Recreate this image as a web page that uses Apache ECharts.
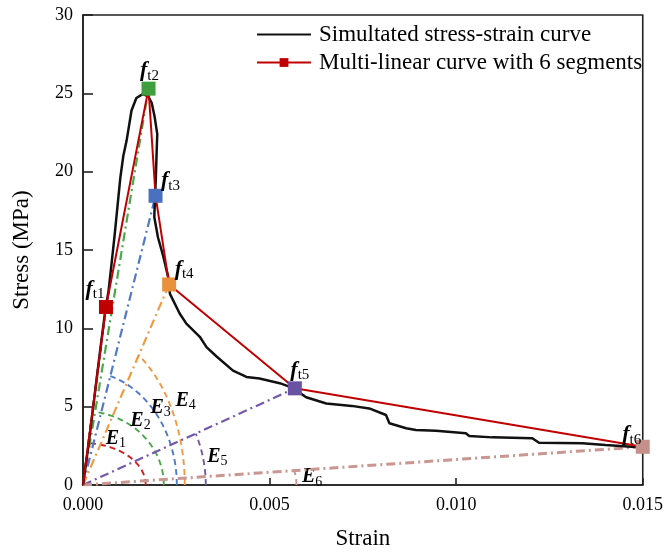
<!DOCTYPE html>
<html><head><meta charset="utf-8">
<script src="https://cdn.jsdelivr.net/npm/echarts@6/dist/echarts.min.js"></script>
<style>html,body{margin:0;padding:0;background:#fff}#c{width:666px;height:556px}</style>
</head><body><div id="c"></div>
<script>
// ---- data ----
const simStrain = [0,0.00015,0.0003,0.00045,0.0006,0.00068,0.00075,0.00085,0.00095,0.001,0.00108,0.00117,0.0013,0.00143,0.0016,0.00175,0.00184,0.00192,0.00199,0.00197,0.00195,0.00193,0.00191,0.00201,0.00215,0.00228,0.00233,0.00259,0.00277,0.00313,0.00331,0.00358,0.00402,0.00438,0.00473,0.00527,0.00562,0.00598,0.00652,0.0072,0.00767,0.00812,0.00821,0.00866,0.00892,0.00946,0.01026,0.01035,0.01097,0.01204,0.01222,0.01338,0.014,0.0147,0.01495];
const simStress = [0,2.6,5.5,8.4,11.2,12.3,13.8,16.0,18.4,19.6,21.0,22.0,23.9,24.7,24.95,24.8,24.4,23.5,22.4,21.0,19.5,18.3,17.1,15.8,14.6,13.3,12.2,10.95,10.3,9.46,8.8,8.2,7.3,6.9,6.8,6.5,6.2,5.6,5.2,5.05,4.89,4.47,3.94,3.62,3.51,3.47,3.30,3.13,3.04,2.98,2.70,2.66,2.55,2.44,2.42];
const mlStrain = [0,0.000615,0.001756,0.001944,0.002308,0.005677,0.015];
const mlStress = [0,11.36,25.3,18.46,12.8,6.17,2.44];
const pointNames = ['', 't1','t2','t3','t4','t5','t6'];
const eNames = ['1','2','3','4','5','6'];
const xTicks = [0,0.005,0.010,0.015];
const yTicks = [0,5,10,15,20,25,30];
const legendNames = ['Simultated stress-strain curve','Multi-linear curve with 6 segments'];

// ---- annotation geometry / styles ----
const arcRadiusStrain = [0.00168,0.002166,0.002514,0.002727,0.00329,0.00572];
const arcRadiusStress = [2.68,4.72,7.27,9.89,8.29,6.38];
const eLabelAt = [[0.00088,2.95],[0.00154,4.1],[0.00208,4.95],[0.00275,5.4],[0.0036,1.8],[0.00614,0.5]];
const fLabelOffset = [[0,0],[-11,-18],[1,-18],[15,-15],[15,-15],[5,-18],[-11,-12]];
const markerColors = ['#c00000','#3f9f3f','#4a70c0','#e8923e','#6a52a2','#c4918a'];
const lineColors = ['#d02020','#4aa84a','#5079c8','#ef9a45','#7558aa','#c99690'];
const serif = '"Liberation Serif","Times New Roman",serif';

const chart = echarts.init(document.getElementById('c'));
const series = [];
// secant lines
for (let i=0;i<6;i++){
  series.push({type:'line', silent:true, symbol:'none', z:2,
    data:[[0,0],[mlStrain[i+1],mlStress[i+1]]],
    lineStyle:{color:lineColors[i], width: i===5?3:2.2, type:[9,4,2,4]}});
}
// arcs + E labels
series.push({type:'custom', silent:true, z:2, data:[0,1,2,3,4,5].map(v=>[v]),
  renderItem:function(params, api){
    const i = params.dataIndex;
    const sx = mlStrain[i+1], sy = mlStress[i+1];
    const rx = arcRadiusStrain[i], ry = arcRadiusStress[i];
    const tEnd = Math.atan2(sy/ry, sx/rx);
    const pts = [];
    for (let k=0;k<=40;k++){ const t=tEnd*k/40; pts.push(api.coord([rx*Math.cos(t), ry*Math.sin(t)])); }
    const lp = api.coord(eLabelAt[i]);
    return {type:'group', children:[
      {type:'polyline', shape:{points:pts}, style:{stroke:lineColors[i], lineWidth:1.9, lineDash:[6,4], fill:null}},
      {type:'text', x:lp[0], y:lp[1], style:{text:'{e|E}{s|'+eNames[i]+'}', align:'center', verticalAlign:'middle',
        rich:{e:{fontFamily:serif,fontStyle:'italic',fontWeight:'bold',fontSize:20,fill:'#000',color:'#000'},
              s:{fontFamily:serif,fontSize:14,fill:'#000',color:'#000',padding:[10,0,0,0]}}}}
    ]};
  }});
// simulated curve
series.push({name:legendNames[0], type:'line', symbol:'none', z:3,
  data: simStrain.map((x,i)=>[x, simStress[i]]),
  lineStyle:{color:'#111', width:2.5}, itemStyle:{color:'#111'}});
// multi-linear
series.push({name:legendNames[1], type:'line', symbol:'rect', symbolSize:14, z:5,
  lineStyle:{color:'#c00000', width:2}, itemStyle:{color:'#c00000'},
  data: mlStrain.map((x,i)=>({value:[x, mlStress[i]],
    symbol: i===0?'none':'rect',
    itemStyle:{color: i===0?'#c00000':markerColors[i-1]},
    label:{show:i>0, position:'inside', offset:fLabelOffset[i],
      formatter:'{f|f}{s|'+pointNames[i]+'}',
      rich:{f:{fontFamily:serif,fontStyle:'italic',fontWeight:'bold',fontSize:22,color:'#000'},
            s:{fontFamily:serif,fontSize:15,color:'#000',padding:[10,0,0,0]}}}}))});

chart.setOption({
  animation:false,
  grid:{left:83,right:22,top:15,bottom:71,show:true,borderColor:'#222',borderWidth:1.6,backgroundColor:'transparent'},
  legend:{data:[{name:legendNames[0], itemStyle:{opacity:0}},{name:legendNames[1]}], orient:'vertical', left:251, top:18,
    itemWidth:54, itemHeight:11, itemGap:5,
    textStyle:{fontFamily:serif, fontSize:23, color:'#000', padding:[0,0,0,3]}},
  xAxis:{type:'value', min:0, max:0.015, interval:0.005,
    name:'Strain', nameLocation:'middle', nameGap:42,
    nameTextStyle:{fontFamily:serif,fontSize:23,color:'#000'},
    axisLine:{lineStyle:{color:'#222',width:1.6}},
    axisTick:{inside:true,length:7,lineStyle:{color:'#222',width:1.6}},
    axisLabel:{fontFamily:serif,fontSize:18,color:'#000',margin:11,formatter:v=>v.toFixed(3)},
    splitLine:{show:false}},
  yAxis:{type:'value', min:0, max:30, interval:5,
    name:'Stress (MPa)', nameLocation:'middle', nameGap:50,
    nameTextStyle:{fontFamily:serif,fontSize:23,color:'#000'},
    axisLine:{lineStyle:{color:'#222',width:1.6}},
    axisTick:{inside:true,length:10,lineStyle:{color:'#222',width:1.6}},
    axisLabel:{fontFamily:serif,fontSize:18,color:'#000',margin:10},
    splitLine:{show:false}},
  series: series
});
</script></body></html>
